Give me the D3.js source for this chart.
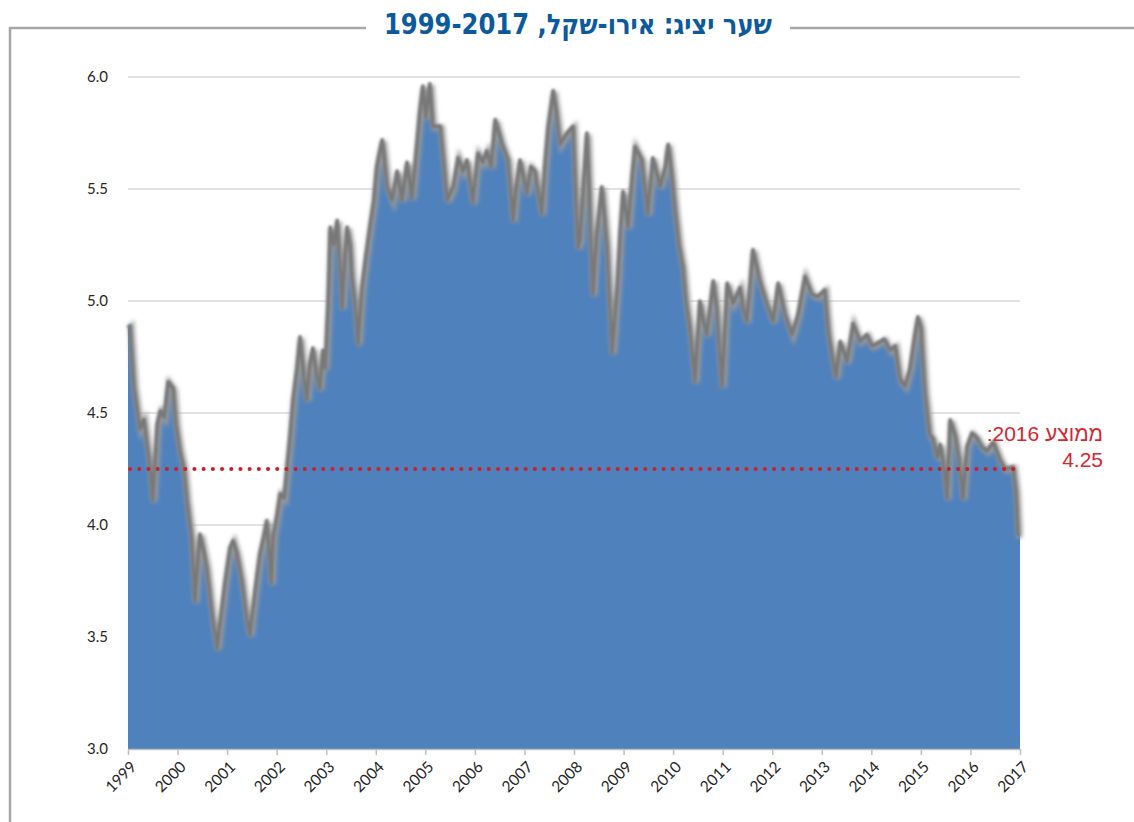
<!DOCTYPE html>
<html>
<head>
<meta charset="utf-8">
<script src="https://cdn.jsdelivr.net/npm/d3@7"></script>
<style>
  body { margin: 0; background: #fff; }
  svg { display: block; }
</style>
</head>
<body>
<div id="chart"></div>
<script>
// euro / shekel representative rate
const years = d3.range(1999, 2018)
const yTicks = [3.0, 3.5, 4.0, 4.5, 5.0, 5.5, 6.0]
const avg2016 = 4.25
const titleText = 'שער יציג: אירו-שקל, 1999-2017'
const avgLabel = ['ממוצע 2016:', '4.25']

// [decimal year, rate]
const euroShekel = [
  [1999.00,4.88],[1999.04,4.89],[1999.12,4.62],[1999.24,4.43],[1999.32,4.47],[1999.44,4.27],[1999.50,4.11],[1999.59,4.45],[1999.65,4.51],[1999.73,4.48],
  [1999.81,4.64],[1999.91,4.61],[1999.97,4.45],[2000.05,4.33],[2000.13,4.25],[2000.19,4.11],[2000.29,3.93],[2000.35,3.66],[2000.45,3.96],[2000.51,3.90],
  [2000.59,3.81],[2000.70,3.60],[2000.80,3.45],[2000.86,3.57],[2000.96,3.75],[2001.06,3.90],[2001.12,3.93],[2001.20,3.87],[2001.30,3.75],[2001.40,3.58],
  [2001.46,3.51],[2001.56,3.70],[2001.66,3.87],[2001.74,3.95],[2001.80,4.02],[2001.89,3.74],[2001.93,3.95],[2002.01,4.05],[2002.07,4.14],[2002.15,4.12],
  [2002.21,4.26],[2002.27,4.40],[2002.33,4.56],[2002.41,4.70],[2002.47,4.84],[2002.55,4.66],[2002.61,4.56],[2002.67,4.72],[2002.73,4.79],[2002.81,4.66],
  [2002.87,4.61],[2002.93,4.78],[2002.98,4.70],[2003.04,5.00],[2003.08,5.33],[2003.16,5.25],[2003.22,5.36],[2003.28,5.15],[2003.32,4.97],[2003.38,5.20],
  [2003.42,5.33],[2003.48,5.25],[2003.52,5.11],[2003.58,5.00],[2003.64,4.81],[2003.72,5.06],[2003.80,5.20],[2003.88,5.33],[2003.96,5.45],[2004.02,5.60],
  [2004.09,5.68],[2004.13,5.72],[2004.19,5.60],[2004.23,5.51],[2004.33,5.45],[2004.43,5.58],[2004.53,5.45],[2004.63,5.62],[2004.73,5.46],[2004.83,5.70],
  [2004.89,5.85],[2004.95,5.96],[2005.01,5.82],[2005.09,5.97],[2005.15,5.78],[2005.30,5.78],[2005.38,5.60],[2005.44,5.45],[2005.56,5.51],[2005.66,5.64],
  [2005.76,5.58],[2005.84,5.63],[2005.96,5.44],[2006.06,5.66],[2006.16,5.62],[2006.24,5.67],[2006.33,5.60],[2006.41,5.81],[2006.55,5.70],[2006.67,5.63],
  [2006.77,5.36],[2006.83,5.50],[2006.91,5.63],[2007.05,5.48],[2007.13,5.60],[2007.21,5.58],[2007.35,5.39],[2007.41,5.60],[2007.48,5.78],[2007.58,5.94],
  [2007.64,5.85],[2007.72,5.70],[2007.86,5.75],[2007.98,5.78],[2008.08,5.24],[2008.12,5.27],[2008.20,5.55],[2008.26,5.75],[2008.32,5.40],[2008.38,5.03],
  [2008.46,5.30],[2008.56,5.51],[2008.67,5.24],[2008.77,4.77],[2008.87,5.06],[2008.93,5.30],[2008.99,5.49],[2009.09,5.33],[2009.17,5.55],[2009.23,5.69],
  [2009.37,5.63],[2009.49,5.39],[2009.59,5.64],[2009.74,5.51],[2009.84,5.60],[2009.90,5.70],[2009.98,5.55],[2010.04,5.41],[2010.12,5.25],[2010.20,5.15],
  [2010.26,5.00],[2010.34,4.88],[2010.44,4.64],[2010.54,5.00],[2010.62,4.90],[2010.68,4.85],[2010.81,5.09],[2010.89,4.95],[2010.95,4.73],[2010.99,4.62],
  [2011.05,4.90],[2011.09,5.08],[2011.21,4.99],[2011.35,5.06],[2011.43,4.95],[2011.49,4.91],[2011.61,5.23],[2011.75,5.09],[2011.89,4.99],[2012.02,4.91],
  [2012.12,5.08],[2012.26,4.94],[2012.40,4.85],[2012.52,4.94],[2012.66,5.11],[2012.80,5.03],[2012.92,5.02],[2013.06,5.05],[2013.14,4.85],[2013.23,4.73],
  [2013.29,4.66],[2013.37,4.82],[2013.51,4.73],[2013.63,4.90],[2013.77,4.82],[2013.91,4.85],[2014.01,4.80],[2014.11,4.81],[2014.26,4.83],[2014.38,4.78],
  [2014.48,4.80],[2014.58,4.65],[2014.68,4.62],[2014.78,4.70],[2014.88,4.85],[2014.94,4.93],[2015.00,4.88],[2015.08,4.60],[2015.18,4.40],[2015.24,4.39],
  [2015.33,4.30],[2015.39,4.36],[2015.47,4.25],[2015.53,4.12],[2015.59,4.47],[2015.69,4.40],[2015.77,4.30],[2015.85,4.12],[2015.93,4.35],[2016.03,4.41],
  [2016.13,4.39],[2016.23,4.35],[2016.33,4.33],[2016.46,4.37],[2016.60,4.29],[2016.70,4.25],[2016.86,4.26],[2016.92,4.15],[2016.96,3.96],[2017.00,3.96]
]

const W = 1134, H = 822
const margin = { top: 77, right: 114, bottom: 73, left: 128 }
const width = W - margin.left - margin.right
const height = H - margin.top - margin.bottom

const svg = d3.select('#chart').append('svg')
  .attr('width', W)
  .attr('height', H)

// frame + title
const frame = svg.append('g')
  .attr('stroke', '#a6a6a6')
  .attr('stroke-width', 2.5)
  .attr('fill', 'none')
frame.append('path').attr('d', 'M10,822 V28 H366')
frame.append('path').attr('d', 'M790,28 H1134')

svg.append('text')
  .attr('x', 578)
  .attr('y', 34)
  .attr('text-anchor', 'middle')
  .attr('direction', 'rtl')
  .attr('font-family', '"Liberation Sans Narrow", "DejaVu Sans Condensed", "Liberation Sans", sans-serif')
  .attr('font-weight', 'bold')
  .attr('font-size', 28)
  .attr('fill', '#0c5a9e')
  .attr('textLength', 388)
  .attr('lengthAdjust', 'spacingAndGlyphs')
  .text(titleText)

const defs = svg.append('defs')
defs.append('filter').attr('id', 'soft')
  .attr('x', '-5%').attr('y', '-5%').attr('width', '110%').attr('height', '110%')
  .append('feGaussianBlur').attr('stdDeviation', 2.2)
defs.append('filter').attr('id', 'soft2')
  .append('feGaussianBlur').attr('stdDeviation', 0.8)

const g = svg.append('g')
  .attr('transform', 'translate(' + margin.left + ',' + margin.top + ')')

const x = d3.scaleLinear().domain([1999, 2017]).range([0, width])
const y = d3.scaleLinear().domain([3, 6]).range([height, 0])

// grid
g.append('g')
  .selectAll('line')
  .data(yTicks.filter(d => d > 3))
  .enter()
  .append('line')
  .attr('x1', 0)
  .attr('x2', width)
  .attr('y1', d => y(d))
  .attr('y2', d => y(d))
  .attr('stroke', '#d9d9d9')
  .attr('stroke-width', 1.5)

// y labels
const yAxis = g.append('g')
  .call(d3.axisLeft(y).tickValues(yTicks).tickFormat(d3.format('.1f')).tickSize(0).tickPadding(20))
yAxis.select('.domain').remove()
yAxis.selectAll('text')
  .attr('font-family', 'Lato, "Open Sans", sans-serif')
  .attr('font-size', 15)
  .attr('fill', '#262626')

const area = d3.area()
  .x(d => x(d[0]))
  .y0(y(3))
  .y1(d => y(d[1]))

const line = d3.line()
  .x(d => x(d[0]))
  .y(d => y(d[1]))

g.append('path')
  .datum(euroShekel)
  .attr('d', area)
  .attr('fill', '#4f81bd')

// grey blurred outline on top of the area
g.append('path')
  .datum(euroShekel)
  .attr('d', line)
  .attr('fill', 'none')
  .attr('stroke', '#9a9a9a')
  .attr('stroke-width', 6)
  .attr('filter', 'url(#soft)')
  .attr('transform', 'translate(1.5,1.5)')
g.append('path')
  .datum(euroShekel)
  .attr('d', line)
  .attr('fill', 'none')
  .attr('stroke', '#787878')
  .attr('stroke-width', 3.5)
  .attr('stroke-linejoin', 'round')
  .attr('filter', 'url(#soft2)')

// x axis
const xAxis = g.append('g')
  .attr('transform', 'translate(0,' + height + ')')
  .call(d3.axisBottom(x).tickValues(years).tickFormat(d3.format('d')).tickSize(6).tickSizeOuter(0))
xAxis.select('.domain').attr('stroke', '#bfbfbf').attr('stroke-width', 1.5)
xAxis.selectAll('.tick line').attr('stroke', '#bfbfbf').attr('stroke-width', 1.5)
xAxis.selectAll('text')
  .attr('font-family', 'Lato, "Open Sans", sans-serif')
  .attr('font-size', 15.5)
  .attr('fill', '#262626')
  .attr('text-anchor', 'end')
  .attr('x', 0)
  .attr('y', 0)
  .attr('dy', '0.35em')
  .attr('transform', 'translate(5,15) rotate(-45)')

// 2016 average
g.append('line')
  .attr('x1', 2)
  .attr('x2', width)
  .attr('y1', y(avg2016))
  .attr('y2', y(avg2016))
  .attr('stroke', '#c8202c')
  .attr('stroke-width', 4)
  .attr('stroke-linecap', 'round')
  .attr('stroke-dasharray', '0.1 9.1')

const lbl = svg.append('g')
  .attr('font-family', '"Liberation Sans", "DejaVu Sans", sans-serif')
  .attr('font-size', 21)
  .attr('fill', '#d7262e')
lbl.selectAll('text')
  .data(avgLabel)
  .enter()
  .append('text')
  .attr('x', 1103)
  .attr('y', (d, i) => 441 + i * 26)
  .attr('direction', 'rtl')
  .attr('text-anchor', 'start')
  .text(d => d)
</script>
</body>
</html>
